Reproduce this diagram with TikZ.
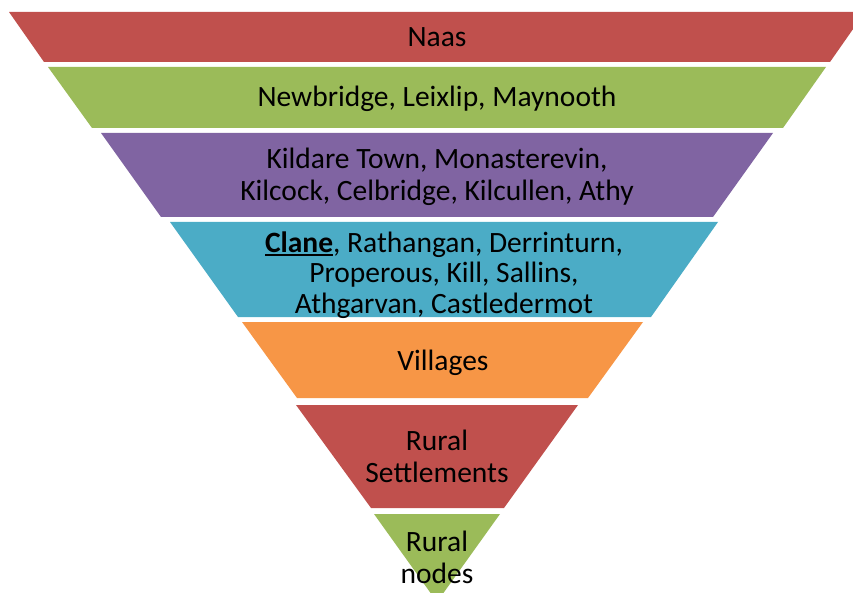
\documentclass[tikz,border=0pt]{standalone}
\usepackage{fontspec}
\setmainfont{Carlito}
\definecolor{cRed}{HTML}{C0504D}
\definecolor{cGreen}{HTML}{9BBB59}
\definecolor{cPurple}{HTML}{8064A2}
\definecolor{cCyan}{HTML}{4BACC6}
\definecolor{cOrange}{HTML}{F79646}
\newcommand{\thickul}[1]{\setbox0\hbox{#1}\rlap{\rule[-3.2pt]{\wd0}{1.8pt}}#1}
\begin{document}
\begin{tikzpicture}[x=1pt,y=-1pt,
  lbl/.style={align=center, inner sep=0pt, font=\fontsize{29.5}{32}\selectfont},
  lblsmall/.style={align=center, inner sep=0pt, font=\fontsize{29.5}{30.5}\selectfont}]
\useasboundingbox (0,0) rectangle (853,593);
\clip (0,0) rectangle (853,593);
\fill[cRed] (9,12) -- (865,12) -- (830,62) -- (44,62) -- cycle;
\fill[cGreen] (48,67) -- (826,67) -- (783,128) -- (92,128) -- cycle;
\fill[cPurple] (101,133) -- (773,133) -- (713,217) -- (161,217) -- cycle;
\fill[cCyan] (170,222) -- (718,222) -- (651,317) -- (238,317) -- cycle;
\fill[cOrange] (242,322) -- (643,322) -- (588,398) -- (297,398) -- cycle;
\fill[cRed] (296,405) -- (578,405) -- (504,508) -- (371,508) -- cycle;
\fill[cGreen] (374,514) -- (500,514) -- (437,602) -- cycle;
\node[lbl] (t1) at (437,37.5) {Naas};
\node[lbl] (t2) at (437,99) {Newbridge, Leixlip, Maynooth};
\node[lbl] (t3) at (437,176.5) {Kildare Town, Monasterevin,\\Kilcock, Celbridge, Kilcullen, Athy};
\node[lblsmall] (t4) at (444,275) {\thickul{\textbf{Clane}}, Rathangan, Derrinturn,\\Properous, Kill, Sallins,\\Athgarvan, Castledermot};
\node[lbl] (t5) at (443,363) {Villages};
\node[lbl] (t6) at (437,456) {Rural\\Settlements};
\node[lbl] (t7) at (437,557.5) {Rural\\nodes};
\end{tikzpicture}
\end{document}
